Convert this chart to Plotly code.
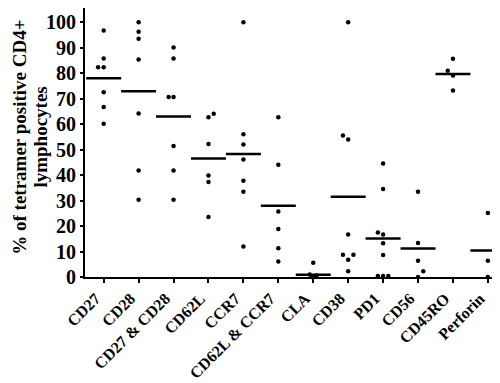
import plotly.graph_objects as go

categories = ["CD27", "CD28", "CD27 & CD28", "CD62L", "CCR7", "CD62L & CCR7",
              "CLA", "CD38", "PD1", "CD56", "CD45RO", "Perforin"]

values = [
    [96.8, 85.8, 82.4, 82.4, 72.6, 66.8, 60.2],
    [100.1, 96.3, 93.6, 85.4, 64.2, 41.8, 30.3],
    [90.1, 85.8, 70.7, 70.7, 51.5, 41.8, 30.3],
    [64.1, 62.7, 52.2, 39.9, 37.3, 23.6],
    [100.1, 56.1, 52.0, 46.2, 37.8, 33.5, 12.0],
    [62.7, 44.1, 25.7, 18.9, 11.3, 6.1],
    [5.6, 1.0, 0.6, 0.3, 0.0, 0.0],
    [100.1, 55.6, 54.0, 16.7, 8.7, 8.7, 6.8, 2.3],
    [44.6, 34.6, 17.5, 16.7, 13.3, 8.6, 0.4, 0.4, 0.4],
    [33.5, 13.4, 6.4, 2.3, 0.0],
    [85.7, 81.0, 79.1, 73.3],
    [25.1, 6.4, 0.0],
]
# horizontal jitter of each dot, in category widths
offsets = [
    [0, 0, -0.16, 0, 0, 0, 0],
    [0, 0, 0, 0, 0, 0, 0],
    [0, 0, -0.14, 0, 0, 0, 0],
    [0.15, 0, 0, 0, 0, 0],
    [0, 0, 0, 0, 0, 0, 0],
    [0, 0, 0, 0, 0, 0],
    [0, -0.1, 0.1, 0, -0.05, 0.05],
    [0, -0.15, 0, 0, -0.15, 0.15, 0, 0],
    [0, 0, -0.15, 0, 0, 0, -0.15, 0, 0.15],
    [0, 0, 0, 0.15, 0],
    [0, -0.15, 0, 0],
    [0, 0, 0],
]
medians = [78.1, 73.0, 63.0, 46.5, 48.3, 28.0, 0.9, 31.5, 15.1, 11.2, 79.7, 10.4]
y_ticks = [0, 10, 20, 30, 40, 50, 60, 70, 80, 90, 100]
title_lines = ["% of tetramer positive CD4+", "lymphocytes"]

font_family = "Liberation Serif, Times New Roman, serif"

xs, ys = [], []
for i, (vals, offs) in enumerate(zip(values, offsets)):
    for v, o in zip(vals, offs):
        xs.append(i + o)
        ys.append(v)

fig = go.Figure()
fig.add_trace(go.Scatter(
    x=xs, y=ys, mode="markers",
    marker=dict(color="black", size=4.5, line=dict(width=0)),
    showlegend=False, cliponaxis=False,
))
fig.add_trace(go.Scatter(
    x=list(range(len(categories))), y=medians, mode="markers",
    marker=dict(symbol="line-ew", size=25, color="black",
                line=dict(color="black", width=2.5)),
    showlegend=False, cliponaxis=False,
))

title_x = [-0.158, -0.106]
annotations = [
    dict(text="<b>" + line + "</b>", xref="paper", yref="paper", x=tx, y=0.52,
         xanchor="center", yanchor="middle", textangle=-90, showarrow=False,
         borderpad=0, font=dict(family=font_family, size=19, color="black"))
    for line, tx in zip(title_lines, title_x)
]

fig.update_layout(
    width=500, height=383,
    margin=dict(l=77, r=3, t=0, b=114, autoexpand=False),
    plot_bgcolor="white", paper_bgcolor="white",
    font=dict(family=font_family, color="black", size=17),
    xaxis=dict(
        range=[-0.535, 11.49], automargin=False,
        tickmode="array", tickvals=list(range(len(categories))), ticktext=categories,
        tickangle=-45, ticks="outside", ticklen=4, tickwidth=1.5, tickcolor="black",
        ticklabelshift=-8, ticklabelstandoff=0,
        showline=True, linecolor="black", linewidth=2, showgrid=False, zeroline=False,
        tickfont=dict(family=font_family, size=16, color="black", weight="bold"),
    ),
    yaxis=dict(
        range=[0, 105.66], automargin=False,
        tickmode="array", tickvals=y_ticks, ticktext=[str(t) for t in y_ticks],
        ticks="outside", ticklen=3, tickwidth=1.5, tickcolor="black",
        showline=True, linecolor="black", linewidth=2, showgrid=False, zeroline=False,
        tickfont=dict(family=font_family, size=20, color="black", weight="bold"),
    ),
    annotations=annotations,
)

fig.write_html("out.html")
